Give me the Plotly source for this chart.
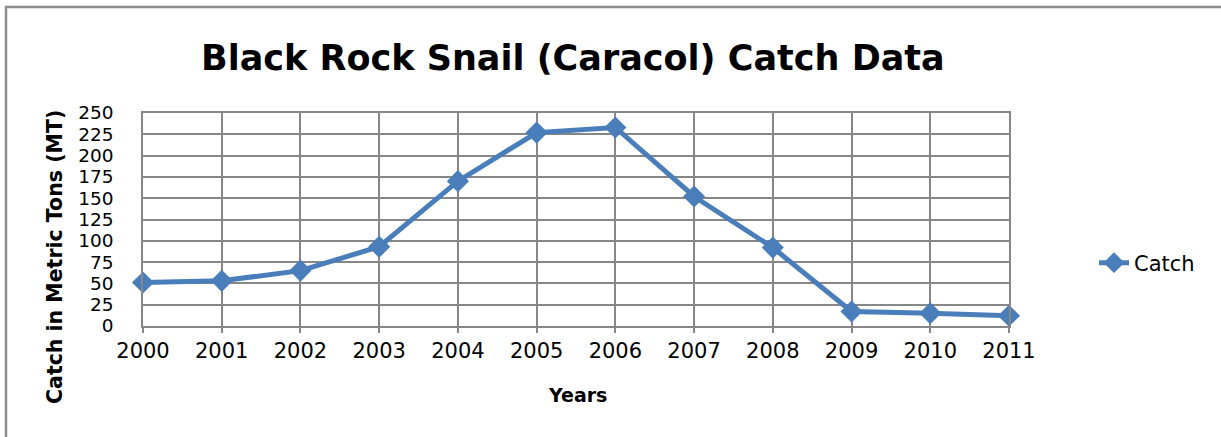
import plotly.graph_objects as go

years = [2000, 2001, 2002, 2003, 2004, 2005, 2006, 2007, 2008, 2009, 2010, 2011]
catch = [51, 53, 65, 93, 170, 227, 233, 152, 92, 17, 15, 12]
yticks = [0, 25, 50, 75, 100, 125, 150, 175, 200, 225, 250]

W, H = 1221, 437
L, R, T, B = 143, 212, 113, 111
pw, ph = W - L - R, H - T - B

def px(x):
    return (x - L) / pw

def py(y):
    return (H - B - y) / ph

FONT = "DejaVu Sans"
grid = "#878787"
blue = "#4A7EBB"

fig = go.Figure()
fig.add_trace(go.Scatter(
    x=years, y=catch, mode="lines+markers", name="Catch",
    line=dict(color=blue, width=5),
    marker=dict(symbol="diamond", size=17, color=blue),
    cliponaxis=False,
))

fig.update_layout(
    width=W, height=H,
    margin=dict(l=L, r=R, t=T, b=B),
    paper_bgcolor="white", plot_bgcolor="white",
    font=dict(family=FONT, color="black"),
    showlegend=True,
    legend=dict(x=px(1094), y=py(263), xanchor="left", yanchor="middle",
                font=dict(size=21, family=FONT), bgcolor="rgba(0,0,0,0)"),
    xaxis=dict(range=[2000, 2011], tickmode="array", tickvals=years,
               ticktext=[str(y) for y in years],
               showgrid=True, gridcolor=grid, gridwidth=1.5,
               showline=True, linecolor=grid, linewidth=1.5, mirror=True,
               ticks="outside", ticklen=5, tickcolor=grid, tickwidth=1.5,
               tickfont=dict(size=21, family=FONT), zeroline=False),
    yaxis=dict(range=[0, 250], tickmode="array", tickvals=yticks,
               showgrid=True, gridcolor=grid, gridwidth=1.5,
               showline=True, linecolor=grid, linewidth=1.5, mirror=True,
               ticks="", ticklabelstandoff=24,
               tickfont=dict(size=18.5, family=FONT), zeroline=False),
)

fig.add_annotation(text="<b>Black Rock Snail (Caracol) Catch Data</b>",
                   xref="paper", yref="paper", x=px(573), y=py(58),
                   xanchor="center", yanchor="middle", showarrow=False,
                   font=dict(size=35, family=FONT, color="black"))
fig.add_annotation(text="<b>Catch in Metric Tons (MT)</b>",
                   xref="paper", yref="paper", x=px(55), y=py(257),
                   xanchor="center", yanchor="middle", showarrow=False,
                   textangle=-90, font=dict(size=20.5, family=FONT, color="black"))
fig.add_annotation(text="<b>Years</b>",
                   xref="paper", yref="paper", x=px(577), y=py(395),
                   xanchor="center", yanchor="middle", showarrow=False,
                   font=dict(size=19, family=FONT, color="black"))

# outer chart frame
fig.add_shape(type="rect", xref="paper", yref="paper",
              x0=px(6), y0=py(445), x1=px(1230), y1=py(7),
              line=dict(color="#8C8C8C", width=2.5), layer="below")

fig.write_html("out.html")
